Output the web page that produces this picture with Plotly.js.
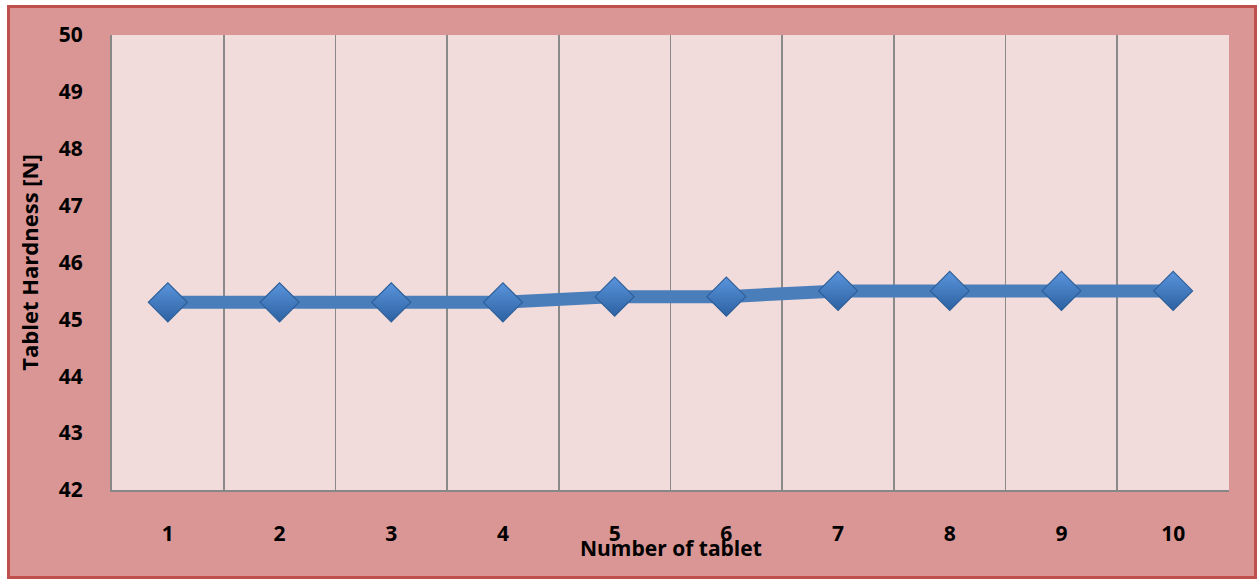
<!DOCTYPE html>
<html>
<head>
<meta charset="utf-8">
<script src="https://cdn.plot.ly/plotly-3.0.1.min.js"></script>
<style>
html,body{margin:0;padding:0;background:#ffffff;}
#wrap{position:relative;width:1257px;height:579px;overflow:hidden;}
#chart{position:absolute;left:0;top:0;width:1257px;height:579px;}
#frame{position:absolute;left:7px;top:5px;width:1250px;height:574px;box-sizing:border-box;border:3px solid #c0504d;box-shadow:0 0 0 30px #ffffff;pointer-events:none;}
</style>
</head>
<body>
<div id="wrap"><div id="chart"></div><div id="frame"></div></div>
<script>
const tablets = [1, 2, 3, 4, 5, 6, 7, 8, 9, 10];
const tickLabels = ['1', '2', '3', '4', '5', '6', '7', '8', '9', '10'];
const hardness = [45.3, 45.3, 45.3, 45.3, 45.4, 45.4, 45.5, 45.5, 45.5, 45.5];
const yTicks = [42, 43, 44, 45, 46, 47, 48, 49, 50];
const xTitle = 'Number of tablet';
const yTitle = 'Tablet Hardness [N]';
const boundaries = tablets.map(t => t - 0.5).concat([tablets[tablets.length - 1] + 0.5]);

const fam = '"Open Sans", "Liberation Sans", sans-serif';
const boldFont = (s) => ({family: fam, size: s, color: '#000000', weight: 'bold'});

const trace = {
  x: tablets,
  y: hardness,
  type: 'scatter',
  mode: 'lines+markers',
  line: {color: '#4a7ebb', width: 13},
  marker: {symbol: 'diamond', size: 30, color: '#5a94dc',
           gradient: {type: 'vertical', color: '#2d62a2'},
           line: {color: '#2c5f9a', width: 1.2}},
  hoverinfo: 'x+y',
  showlegend: false
};

// invisible trace on the overlay axis so its category-boundary gridlines render
const gridTrace = {
  x: [boundaries[0]], y: [hardness[0]], xaxis: 'x2', type: 'scatter', mode: 'markers',
  marker: {opacity: 0}, hoverinfo: 'skip', showlegend: false
};

const layout = {
  width: 1257, height: 579,
  margin: {l: 112, r: 28, t: 35, b: 89},
  paper_bgcolor: '#d99694',
  plot_bgcolor: '#f2dcdb',
  font: {family: fam, color: '#000000', size: 20},
  xaxis: {
    range: [0.5, 10.5],
    tickvals: tablets, ticktext: tickLabels,
    showgrid: false, zeroline: false,
    showline: true, linecolor: '#878787', linewidth: 2,
    ticks: 'outside', ticklen: 24, tickcolor: 'rgba(0,0,0,0)',
    tickfont: boldFont(21)
  },
  xaxis2: {
    overlaying: 'x', range: [0.5, 10.5], tickvals: boundaries,
    showticklabels: false, showgrid: true, gridcolor: '#8a8a8a', gridwidth: 1.7,
    zeroline: false, showline: false, ticks: ''
  },
  yaxis: {
    range: [42, 50], tickvals: yTicks,
    showgrid: false, zeroline: false,
    showline: true, linecolor: '#878787', linewidth: 2,
    ticks: 'outside', ticklen: 23, tickcolor: 'rgba(0,0,0,0)',
    tickfont: boldFont(21),
    title: {text: yTitle, font: boldFont(22), standoff: 14}
  },
  annotations: [{
    text: xTitle, xref: 'paper', yref: 'paper', x: 0.5, y: -0.1275,
    xanchor: 'center', yanchor: 'middle', showarrow: false, font: boldFont(21)
  }]
};

Plotly.newPlot('chart', [gridTrace, trace], layout, {displayModeBar: false, staticPlot: true});
</script>
</body>
</html>
